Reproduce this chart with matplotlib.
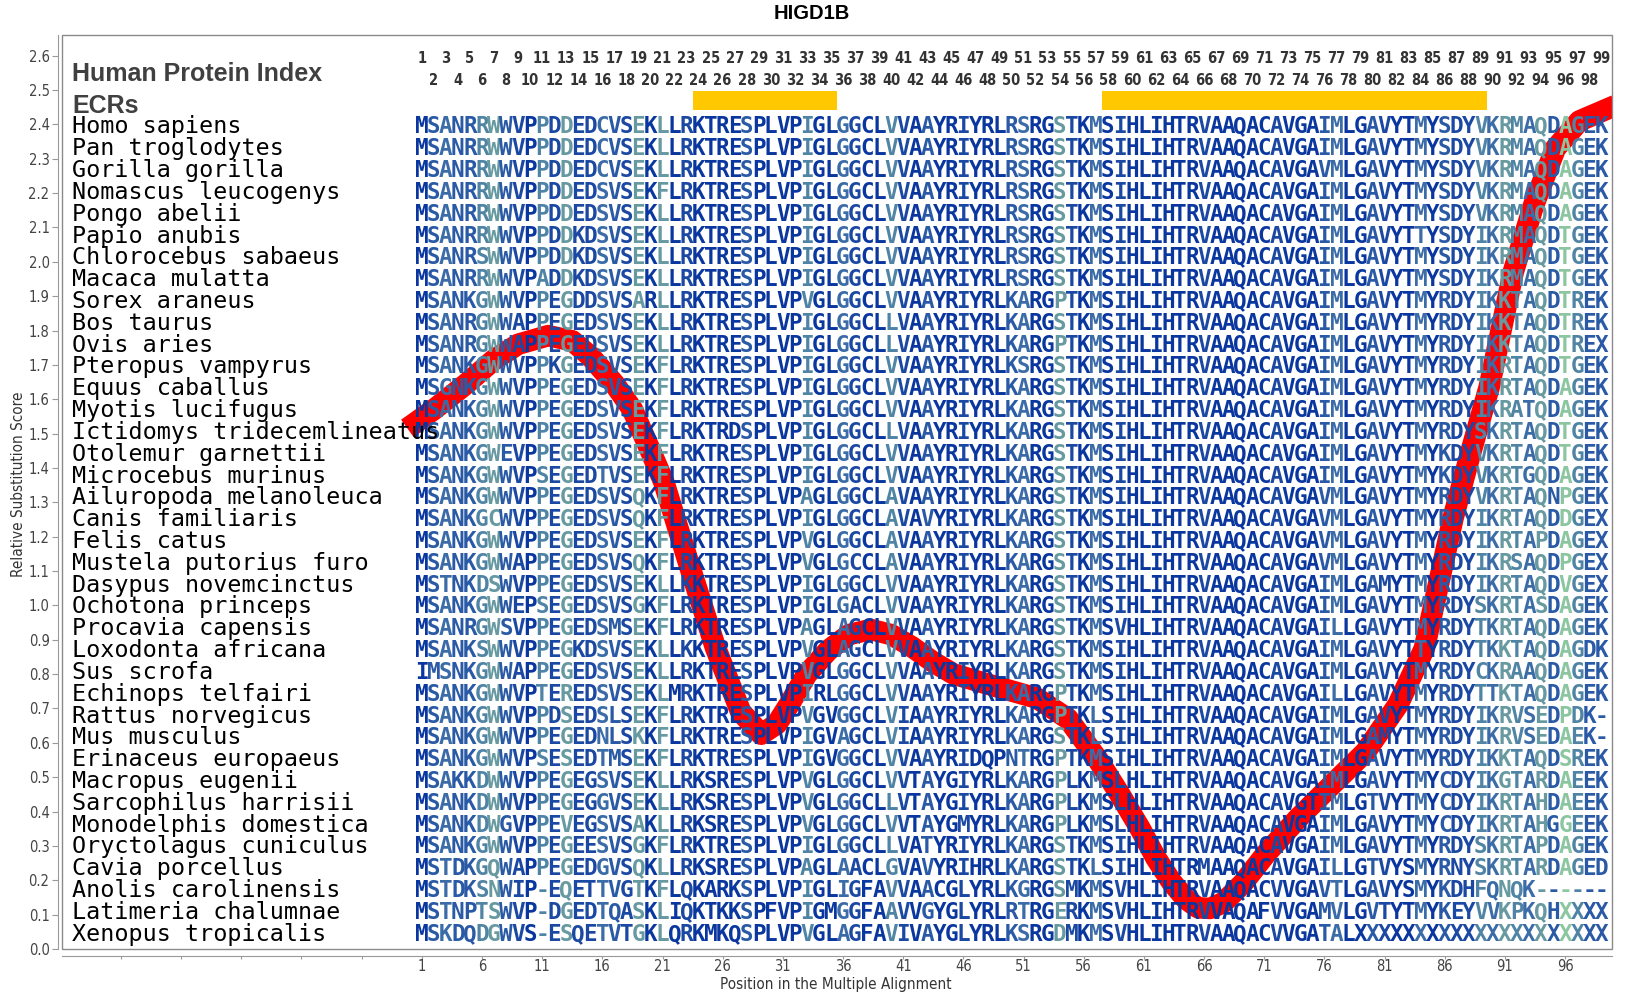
import matplotlib
matplotlib.use('Agg')
import matplotlib.pyplot as plt
from matplotlib import font_manager
from matplotlib.patches import Rectangle

# ---------------------------------------------------------------- data
species = [
    "Homo sapiens", "Pan troglodytes", "Gorilla gorilla", "Nomascus leucogenys",
    "Pongo abelii", "Papio anubis", "Chlorocebus sabaeus", "Macaca mulatta",
    "Sorex araneus", "Bos taurus", "Ovis aries", "Pteropus vampyrus",
    "Equus caballus", "Myotis lucifugus", "Ictidomys tridecemlineatus",
    "Otolemur garnettii", "Microcebus murinus", "Ailuropoda melanoleuca",
    "Canis familiaris", "Felis catus", "Mustela putorius furo",
    "Dasypus novemcinctus", "Ochotona princeps", "Procavia capensis",
    "Loxodonta africana", "Sus scrofa", "Echinops telfairi", "Rattus norvegicus",
    "Mus musculus", "Erinaceus europaeus", "Macropus eugenii",
    "Sarcophilus harrisii", "Monodelphis domestica", "Oryctolagus cuniculus",
    "Cavia porcellus", "Anolis carolinensis", "Latimeria chalumnae",
    "Xenopus tropicalis",
]

sequences = [
    "MSANRRWWVPPDDEDCVSEKLLRKTRESPLVPIGLGGCLVVAAYRIYRLRSRGSTKMSIHLIHTRVAAQACAVGAIMLGAVYTMYSDYVKRMAQDAGEK",
    "MSANRRWWVPPDDEDCVSEKLLRKTRESPLVPIGLGGCLVVAAYRIYRLRSRGSTKMSIHLIHTRVAAQACAVGAIMLGAVYTMYSDYVKRMAQDAGEK",
    "MSANRRWWVPPDDEDCVSEKLLRKTRESPLVPIGLGGCLVVAAYRIYRLRSRGSTKMSIHLIHTRVAAQACAVGAVMLGAVYTMYSDYVKRMAQDAGEK",
    "MSANRRWWVPPDDEDSVSEKFLRKTRESPLVPIGLGGCLVVAAYRIYRLRSRGSTKMSIHLIHTRVAAQACAVGAIMLGAVYTMYSDYVKRMAQDAGEK",
    "MSANRRWWVPPDDEDSVSEKLLRKTRESPLVPIGLGGCLVVAAYRIYRLRSRGSTKMSIHLIHTRVAAQACAVGAIMLGAVYTMYSDYVKRMAQDAGEK",
    "MSANRRWWVPPDDKDSVSEKLLRKTRESPLVPIGLGGCLVVAAYRIYRLRSRGSTKMSIHLIHTRVAAQACAVGAIMLGAVYTTYSDYIKRMAQDTGEK",
    "MSANRSWWVPPDDKDSVSEKLLRKTRESPLVPIGLGGCLVVAAYRIYRLRSRGSTKMSIHLIHTRVAAQACAVGAIMLGAVYTMYSDYIKRMAQDTGEK",
    "MSANRRWWVPADDKDSVSEKLLRKTRESPLVPIGLGGCLVVAAYRIYRLRSRGSTKMSIHLIHTRVAAQACAVGAIMLGAVYTMYSDYIKRMAQDTGEK",
    "MSANKGWWVPPEGDDSVSARLLRKTRESPLVPVGLGGCLVVAAYRIYRLKARGPTKMSIHLIHTRVAAQACAVGAIMLGAVYTMYRDYIKKTAQDTREK",
    "MSANRGWWAPPEGEDSVSEKLLRKTRESPLVPIGLGGCLLVAAYRIYRLKARGSTKMSIHLIHTRVAAQACAVGAIMLGAVYTMYRDYIKKTAQDTREK",
    "MSANRGWWAPPEGEDSVSEKLLRKTRESPLVPIGLGGCLLVAAYRIYRLKARGPTKMSIHLIHTRVAAQACAVGAIMLGAVYTMYRDYIKKTAQDTREX",
    "MSANKGWWVPPKGEDSVSEKFLRKTRESPLVPIGLGGCLVVAAYRIYRLKSRGSTKMSIHLIHTRVAAQACAVGAIMLGAVYTMYRDYIKRTAQDTGEK",
    "MSGNKGWWVPPEGEDSVSEKFLRKTRESPLVPIGLGGCLVVAAYRIYRLKARGSTKMSIHLIHTRVAAQACAVGAIMLGAVYTMYRDYIKRTAQDAGEK",
    "MSANKGWWVPPEGEDSVSEKFLRKTRESPLVPIGLGGCLVVAAYRIYRLKARGSTKMSIHLIHTRVAAQACAVGAIMLGAVYTMYRDYIKRATQDAGEK",
    "MSANKGWWVPPEGEDSVSEKFLRKTRDSPLVPIGLGGCLLVAAYRIYRLKARGSTKMSIHLIHTRVAAQACAVGAIMLGAVYTMYRDYSKRTAQDTGEK",
    "MSANKGWEVPPEGEDSVSEKFLRKTRESPLVPIGLGGCLVVAAYRIYRLKARGSTKMSIHLIHTRVAAQACAVGAIMLGAVYTMYKDYVKRTAQDTGEK",
    "MSANKGWWVPSEGEDTVSEKFLRKTRESPLVPIGLGGCLVVAAYRIYRLKARGSTKMSIHLIHTRVAAQACAVGAIMLGAVYTMYKDYVKRTGQDAGEK",
    "MSANKGWWVPPEGEDSVSQKFLRKTRESPLVPAGLGGCLAVAAYRIYRLKARGSTKMSIHLIHTRVAAQACAVGAVMLGAVYTMYRDYVKRTAQNPGEK",
    "MSANKGCWVPPEGEDSVSQKFLRKTRESPLVPIGLGGCLAVAVYRIYRLKARGSTKMSIHLIHTRVAAQACAVGAVMLGAVYTMYRDYIKRTAQDDGEX",
    "MSANKGWWVPPEGEDSVSEKFLRKTRESPLVPVGLGGCLAVAAYRIYRLKARGSTKMSIHLIHTRVAAQACAVGAVMLGAVYTMYRDYIKRTAPDAGEX",
    "MSANKGWWAPPEGEDSVSQKFLRKTRESPLVPVGLGCCLAVAAYRIYRLKARGSTKMSIHLIHTRVAAQACAVGAVMLGAVYTMYRDYIKRSAQDPGEX",
    "MSTNKDSWVPPEGEDSVSEKLLKKTRESPLVPIGLGGCLVVAAYRIYRLKARGSTKMSIHLIHTRVAAQACAVGAIMLGAMYTMYRDYIKRTAQDVGEX",
    "MSANKGWWEPSEGEDSVSGKFLRKTRESPLVPIGLGACLVVAAYRIYRLKARGSTKMSIHLIHTRVAAQACAVGAIMLGAVYTMYRDYSKRTASDAGEK",
    "MSANRGWSVPPEGEDSMSEKFLRKTRESPLVPAGLAGCLVVAAYRIYRLKARGSTKMSVHLIHTRVAAQACAVGAILLGAVYTMYRDYTKRTAQDAGEK",
    "MSANKSWWVPPEGKDSVSEKLLKKTRESPLVPVGLAGCLVVAAYRIYRLKARGSTKMSIHLIHTRVAAQACAVGAIMLGAVYTTYRDYTKKTAQDAGDK",
    "IMSNKGWWAPPEGEDSVSEKLLRKTRESPLVPVGLGGCLVVAAYRIYRLKARGSTKMSIHLIHTRVAAQACAVGAIMLGAVYTMYRDYCKRAAQDAGEK",
    "MSANKGWWVPTEREDSVSEKLMRKTRESPLVPIRLGGCLVVAAYRIYRLKARGPTKMSIHLIHTRVAAQACAVGAILLGAVYTMYRDYTTKTAQDAGEK",
    "MSANKGWWVPPDSEDSLSEKFLRKTRESPLVPVGVGGCLVIAAYRIYRLKARGPTKLSIHLIHTRVAAQACAVGAIMLGAVYTMYRDYIKRVSEDPDK-",
    "MSANKGWWVPPEGEDNLSKKFLRKTRESPLVPIGVAGCLVIAAYRIYRLKARGSTKLSIHLIHTRVAAQACAVGAIMLGAMYTMYRDYIKRVSEDAEK-",
    "MSANKGWWVPSESEDTMSEKFLRKTRESPLVPIGVGGCLVVAAYRIDQPNTRGPTKMSIHLIHTRVAAQACAVGAIMLGAVYTMYRDYIKKTAQDSREK",
    "MSAKKDWWVPPEGEGSVSEKLLRKSRESPLVPVGLGGCLVVTAYGIYRLKARGPLKMSLHLIHTRVAAQACAVGAIMLGAVYTMYCDYIKGTARDAEEK",
    "MSANKDWWVPPEGEGGVSEKLLRKSRESPLVPVGLGGCLLVTAYGIYRLKARGPLKMSLHLIHTRVAAQACAVGTIMLGTVYTMYCDYIKRTAHDAEEK",
    "MSANKDWGVPPEVEGSVSAKLLRKSRESPLVPVGLGGCLVVTAYGMYRLKARGPLKMSLHLIHTRVAAQACAVGAIMLGAVYTMYCDYIKRTAHGGEEK",
    "MSANKGWWVPPEGEESVSGKFLRKTRESPLVPIGLGGCLLVATYRIYRLKARGSTKMSIHLIHTRVAAQACAVGAIMLGAVYTMYRDYSKRTAPDAGEK",
    "MSTDKGQWAPPEGEDGVSQKLLRKSRESPLVPAGLAACLGVAVYRIHRLKARGSTKLSIHLIHTRMAAQACAVGAILLGTVYSMYRNYSKRTARDAGED",
    "MSTDKSNWIP-EQETTVGTKFLQKARKSPLVPIGLIGFAVVAACGLYRLKGRGSMKMSVHLIHTRVAAQACVVGAVTLGAVYSMYKDHFQNQK------",
    "MSTNPTSWVP-DGEDTQASKLIQKTKKSPFVPIGMGGFAAVVGYGLYRLRTRGERKMSVHLIHTRVVAQAFVVGAMVLGVTYTMYKEYVVKPKQHXXXX",
    "MSKDQDGWVS-ESQETVTGKLQRKMKQSPLVPVGLAGFAVIVAYGLYRLKSRGDMKMSVHLIHTRVAAQACVVGATALXXXXXXXXXXXXXXXXXXXXX",
]

# shade of each alignment column (0 = most conserved ... 6 = most variable)
col_level = [
    0, 2, 3, 2, 2, 4, 5, 2, 1, 0,
    4, 1, 5, 1, 1, 3, 2, 1, 5, 0,
    5, 0, 1, 0, 0, 0, 0, 2, 0, 0,
    0, 0, 4, 0, 0, 3, 1, 0, 0, 4,
    1, 0, 2, 0, 0, 1, 0, 0, 0, 2,
    3, 0, 0, 5, 1, 0, 3, 0, 1, 0,
    0, 0, 0, 0, 0, 1, 0, 0, 0, 0,
    0, 1, 0, 0, 0, 2, 3, 0, 0, 2,
    1, 0, 0, 3, 0, 2, 1, 1, 4, 3,
    5, 4, 3, 5, 2, 6, 4, 2, 2,
]

ecr_ranges = [(24, 35), (58, 89)]

# relative substitution score curve
line_pos = [-0.2, 2.0, 4.7, 7.0, 9.0, 11.5, 13.5, 15.0, 17.0, 18.5, 20.0, 21.1,
            23.2, 25.4, 27.5, 29.2, 30.5, 31.5, 33.0, 34.8, 36.5, 38.3, 40.0,
            41.7, 43.5, 45.2, 48.6, 52.1, 54.7, 57.2, 59.0, 60.7, 62.0, 63.3,
            64.5, 65.5, 66.5, 67.6, 69.2, 71.1, 73.8, 76.6, 79.4, 82.1, 84.3,
            86.7, 88.2, 89.7, 91.7, 93.4, 95.2, 97.2, 100.2]
line_score = [1.515, 1.57, 1.645, 1.715, 1.76, 1.785, 1.77, 1.725, 1.645, 1.57,
              1.45, 1.36, 1.12, 0.877, 0.69, 0.625, 0.655, 0.71, 0.8, 0.87,
              0.915, 0.93, 0.915, 0.88, 0.835, 0.8, 0.765, 0.73, 0.67, 0.55,
              0.45, 0.35, 0.265, 0.195, 0.145, 0.12, 0.118, 0.135, 0.19, 0.275,
              0.38, 0.477, 0.573, 0.71, 0.874, 1.255, 1.45, 1.636, 1.971, 2.166,
              2.33, 2.41, 2.455]

for name, s in zip(species, sequences):
    if len(s) != 99:
        raise ValueError(name + " has %d residues" % len(s))

# ---------------------------------------------------------------- style
level_colors = ['#0a379f', '#1a48a2', '#2a5aa6', '#3b6ca8', '#5084a5',
                '#6699a0', '#8cc6a0']

names = {f.name for f in font_manager.fontManager.ttflist}
if 'Liberation Sans Narrow' in names:
    narrow = dict(family='Liberation Sans Narrow')
else:
    narrow = dict(family='DejaVu Sans', fontstretch='condensed')
sans = 'Liberation Sans' if 'Liberation Sans' in names else 'DejaVu Sans'
tick_font = font_manager.FontProperties(size=10.5, **{
    ('stretch' if k == 'fontstretch' else k): v for k, v in narrow.items()})

W, H = 1625, 1000
fig = plt.figure(figsize=(W / 100, H / 100), dpi=100)
ax = fig.add_axes([62 / W, 51 / H, 1550 / W, 914 / H])
ax.set_xlim(-28.9, 99.9)
ax.set_ylim(0, 2.66)

# frame + offset axes like the original
ax.add_patch(Rectangle((0, 0), 1, 1, transform=ax.transAxes, fill=False,
                       edgecolor='#8a8a8a', lw=1.0, clip_on=False, zorder=5))
for side in ['top', 'right']:
    ax.spines[side].set_visible(False)
ax.spines['left'].set_position(('outward', 3))
ax.spines['bottom'].set_position(('outward', 5))
for side in ['left', 'bottom']:
    ax.spines[side].set_color('#9a9a9a')
    ax.spines[side].set_linewidth(0.8)

yt = [i / 10 for i in range(27)]
ax.set_yticks(yt)
ax.set_yticklabels(['%.1f' % v for v in yt])
xt = list(range(-24, 100, 5))
ax.set_xticks(xt)
ax.set_xticklabels([str(v) if v >= 1 else '' for v in xt])
ax.tick_params(axis='y', length=4, width=0.8, color='#9a9a9a',
               labelcolor='#444444', pad=2)
ax.tick_params(axis='x', length=2.5, width=0.8, color='#9a9a9a',
               labelcolor='#444444', pad=0)
for lab in ax.get_xticklabels() + ax.get_yticklabels():
    lab.set_fontproperties(tick_font)

# red score line (behind the letters)
ax.plot(line_pos, line_score, color='#ff0000', lw=15.5,
        solid_capstyle='butt', solid_joinstyle='round', zorder=2)

# header: position index + ECR bars
for n in range(1, 100):
    ax.text(n, 2.591 if n % 2 else 2.527, str(n), ha='center', va='center',
            fontsize=10.5, color='#333333', fontweight='bold', zorder=3, **narrow)
for a, b in ecr_ranges:
    ax.add_patch(Rectangle((a - 0.5, 2.443), b - a + 1, 0.055,
                           facecolor='#ffc800', edgecolor='none', zorder=1))

ax.text(-28.05, 2.5275, 'Human Protein Index', ha='left', va='baseline',
        fontsize=18, fontweight='bold', color='#404040', family=sans)
ax.text(-28.05, 2.434, 'ECRs', ha='left', va='baseline',
        fontsize=18, fontweight='bold', color='#404040', family=sans)

# alignment rows
row0, dy, base = 2.398, 0.0635, 0.0245
for i, (name, seq) in enumerate(zip(species, sequences)):
    y = row0 - i * dy - base
    ax.text(-28.05, y, name, ha='left', va='baseline', fontsize=16.8,
            family='DejaVu Sans Mono', color='black', zorder=4)
    for j, ch in enumerate(seq):
        ax.text(j + 1, y, ch, ha='center', va='baseline', fontsize=16.3,
                fontweight='bold', family='DejaVu Sans Mono',
                color=level_colors[col_level[j]], zorder=3)

fig.text(812 / W, 1 - 13.5 / H, 'HIGD1B', ha='center', va='center',
         fontsize=14.5, fontweight='bold', family=sans)
fig.text(836 / W, 1 - 984 / H, 'Position in the Multiple Alignment',
         ha='center', va='center', fontsize=11, color='#333333', **narrow)
fig.text(18.7 / W, 1 - 484 / H, 'Relative Substitution Score', rotation=90,
         ha='center', va='center', fontsize=11, color='#333333', **narrow)

fig.savefig('out.png', dpi=100)
